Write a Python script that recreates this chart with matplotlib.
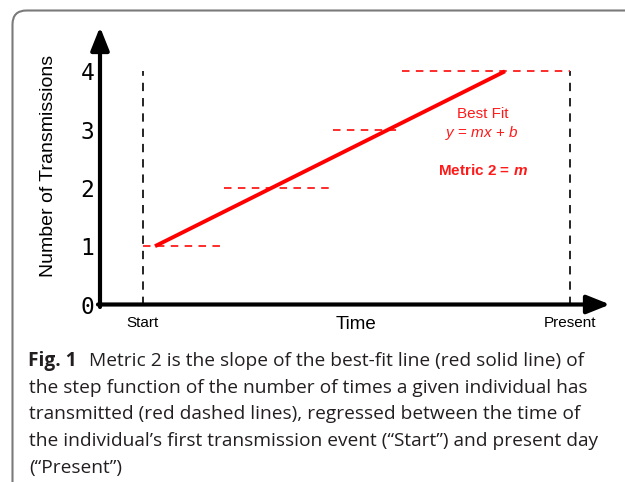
import matplotlib
matplotlib.use("Agg")
import matplotlib.pyplot as plt
from matplotlib.patches import FancyBboxPatch

plt.rcParams['lines.scale_dashes'] = False
plt.rcParams['mathtext.fontset'] = 'custom'
plt.rcParams['mathtext.rm'] = 'Liberation Sans'
plt.rcParams['mathtext.it'] = 'Liberation Sans:italic'
plt.rcParams['mathtext.bf'] = 'Liberation Sans:bold'
plt.rcParams['mathtext.bfit'] = 'Liberation Sans:bold:italic'

# ---- data ----
counts = [1, 2, 3, 4]
step_starts = [4.27, 12.4, 23.27, 30.17]
step_ends = [12.07, 23.0, 29.8, 47.0]
start_time = 4.27
present_time = 47.0
fit_x = [5.5, 40.5]
fit_y = [1, 4]
ytick_values = [0, 1, 2, 3, 4]
ytick_labels = ["0", "1", "2", "3", "4"]
caption_bold = "Fig. 1"
caption_lines = [
    "Metric 2 is the slope of the best-fit line (red solid line) of",
    "the step function of the number of times a given individual has",
    "transmitted (red dashed lines), regressed between the time of",
    "the individual\u2019s first transmission event (\u201cStart\u201d) and present day",
    "(\u201cPresent\u201d)",
]

W, H = 625, 482
fig = plt.figure(figsize=(W / 100, H / 100), dpi=100)

# background / decoration axes in pixel coordinates
bg = fig.add_axes([0, 0, 1, 1])
bg.set_xlim(0, W)
bg.set_ylim(H, 0)
bg.axis('off')
frame = FancyBboxPatch((12.5, 10.5), 900, 700,
                       boxstyle='round,pad=0,rounding_size=14',
                       ec='#7a7a7a', fc='none', lw=1.5)
bg.add_patch(frame)

cap_font = dict(family='Open Sans', fontsize=13.8, color='#231f20', va='baseline')
baselines = [366, 392.7, 419.3, 446, 472.7]
bg.text(28.3, baselines[0], caption_bold, fontweight='bold', **cap_font)
bg.text(89.0, baselines[0], caption_lines[0], **cap_font)
for yb, line in zip(baselines[1:], caption_lines[1:]):
    bg.text(29.0, yb, line, **cap_font)

# chart axes
x0_px, x1_px = 100, 610
y0_px, ytop_px = 304.5, 27
ppu_y = 58.3
ax = fig.add_axes([x0_px / W, (H - y0_px) / H, (x1_px - x0_px) / W, (y0_px - ytop_px) / H])
ax.patch.set_visible(False)
ax.set_xlim(0, (x1_px - x0_px) / 10)
ax.set_ylim(0, (y0_px - ytop_px) / ppu_y)
for s in ax.spines.values():
    s.set_visible(False)
ax.set_xticks([])
ax.set_yticks(ytick_values)
ax.set_yticklabels(ytick_labels, family='DejaVu Sans Mono', fontsize=16.5)
ax.tick_params(axis='y', length=0, pad=4.0)

arrow_style = '-|>,head_length=0.7,head_width=0.28'
ax.annotate('', xy=(0, 1), xytext=(0, -0.009), xycoords='axes fraction',
            arrowprops=dict(arrowstyle=arrow_style, lw=3, color='black',
                            mutation_scale=20, shrinkA=0, shrinkB=0),
            annotation_clip=False)
ax.annotate('', xy=(1, 0), xytext=(-0.004, 0), xycoords='axes fraction',
            arrowprops=dict(arrowstyle=arrow_style, lw=3, color='black',
                            mutation_scale=20, shrinkA=0, shrinkB=0),
            annotation_clip=False)

# vertical dashed markers
for xv in (start_time, present_time):
    ax.plot([xv, xv], [0, 4], color='black', lw=1.2, dashes=(6, 5), clip_on=False)

# step function
for xs, xe, c in zip(step_starts, step_ends, counts):
    ax.plot([xs, xe], [c, c], color='#ff1a1a', lw=1.3, dashes=(5.4, 4.6), clip_on=False)

# best fit
ax.plot(fit_x, fit_y, color='#ff0000', lw=2.8, solid_capstyle='butt')

red = '#ff1a1a'
ax.text(38.25, 3.27, 'Best Fit', color=red, fontsize=11, family='Liberation Sans',
        ha='center', va='center')
ax.text(38.2, 2.94, '$\\mathit{y}$ = $\\mathit{mx}$ + $\\mathit{b}$', color=red, fontsize=11,
        family='Liberation Sans', ha='center', va='center')
ax.text(38.25, 2.29, 'Metric 2 = $\\mathbfit{m}$', color=red, fontsize=11,
        family='Liberation Sans', fontweight='bold', ha='center', va='center')

# x-axis labels
ax.text(start_time, -0.31, 'Start', fontsize=11, family='Liberation Sans',
        ha='center', va='center', clip_on=False)
ax.text(present_time, -0.31, 'Present', fontsize=11, family='Liberation Sans',
        ha='center', va='center', clip_on=False)
ax.text(25.55, -0.35, 'Time', fontsize=13.5, family='Liberation Sans',
        ha='center', va='center', clip_on=False)

ax.text(-0.101, 0.5, 'Number of Transmissions', rotation=90, fontsize=14,
        family='Liberation Sans', ha='center', va='center', transform=ax.transAxes)

fig.savefig('out.png', dpi=100)
